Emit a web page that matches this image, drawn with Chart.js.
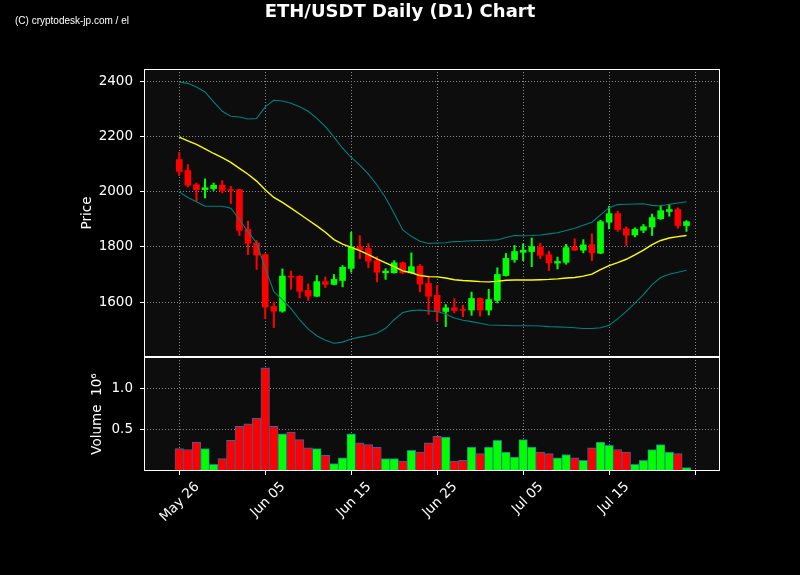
<!DOCTYPE html>
<html>
<head>
<meta charset="utf-8">
<title>ETH/USDT Daily (D1) Chart</title>
<script src="https://cdn.jsdelivr.net/npm/chart.js@4.4.1/dist/chart.umd.min.js"></script>
<style>
  html, body { margin: 0; padding: 0; background: #000; }
  #wrap { width: 800px; height: 575px; }
</style>
</head>
<body>
<div id="wrap"><canvas id="ethChart" width="800" height="575"></canvas></div>
<script>
// x values are day offsets from May 26
const xTickDays = [0, 10, 20, 30, 40, 50, 60];
const xTickLabels = ['May 26', 'Jun 05', 'Jun 15', 'Jun 25', 'Jul 05', 'Jul 15', ''];
const priceTicks = [1600, 1800, 2000, 2200, 2400];
const volumeTicks = [0.5, 1.0];

const openPrices = [2116, 2076, 2025, 2007, 2011, 2023, 2007, 2007, 1863, 1814,
  1772, 1584, 1567, 1694, 1693, 1642, 1621, 1674, 1664, 1678,
  1722, 1800, 1794, 1750, 1706, 1706, 1742, 1706, 1730, 1667,
  1624, 1566, 1579, 1573, 1571, 1613, 1571, 1606, 1696, 1754,
  1780, 1783, 1800, 1771, 1741, 1744, 1799, 1788, 1808, 1777,
  1889, 1920, 1865, 1843, 1860, 1872, 1902, 1928, 1935, 1877];
const highPrices = [2142, 2098, 2031, 2046, 2031, 2040, 2019, 2008, 1893, 1823,
  1775, 1600, 1720, 1712, 1696, 1666, 1696, 1691, 1700, 1732,
  1853, 1841, 1812, 1764, 1721, 1750, 1745, 1778, 1736, 1694,
  1660, 1591, 1612, 1588, 1636, 1615, 1646, 1724, 1776, 1805,
  1811, 1832, 1813, 1784, 1763, 1809, 1829, 1826, 1847, 1896,
  1947, 1929, 1872, 1869, 1881, 1919, 1949, 1953, 1941, 1895];
const lowPrices = [2058, 2017, 1965, 1977, 2004, 1995, 1957, 1841, 1772, 1718,
  1540, 1507, 1563, 1646, 1615, 1606, 1620, 1652, 1662, 1655,
  1708, 1757, 1724, 1673, 1682, 1705, 1703, 1704, 1637, 1555,
  1531, 1511, 1561, 1547, 1552, 1549, 1553, 1597, 1694, 1744,
  1750, 1728, 1757, 1714, 1720, 1737, 1786, 1778, 1750, 1775,
  1865, 1856, 1805, 1836, 1851, 1841, 1899, 1911, 1867, 1856];
const closePrices = [2073, 2023, 2007, 2014, 2023, 2004, 2004, 1860, 1813, 1770,
  1582, 1567, 1694, 1690, 1639, 1621, 1674, 1664, 1682, 1726,
  1800, 1790, 1748, 1708, 1712, 1742, 1706, 1728, 1665, 1621,
  1566, 1579, 1570, 1570, 1613, 1571, 1609, 1700, 1758, 1783,
  1788, 1801, 1769, 1742, 1747, 1797, 1788, 1807, 1778, 1891,
  1920, 1863, 1842, 1863, 1873, 1906, 1931, 1935, 1877, 1891];
// volume in units of 10^6
const volumes = [0.27, 0.26, 0.35, 0.27, 0.08, 0.15, 0.37, 0.54, 0.57, 0.64,
  1.25, 0.54, 0.45, 0.47, 0.38, 0.28, 0.27, 0.19, 0.09, 0.16,
  0.45, 0.34, 0.32, 0.29, 0.15, 0.15, 0.12, 0.25, 0.23, 0.34,
  0.42, 0.41, 0.12, 0.13, 0.29, 0.21, 0.29, 0.37, 0.23, 0.17,
  0.38, 0.29, 0.23, 0.21, 0.16, 0.20, 0.16, 0.13, 0.28, 0.35,
  0.31, 0.26, 0.23, 0.08, 0.13, 0.26, 0.32, 0.23, 0.21, 0.04];
const smaLine = [2197, 2184, 2171, 2155, 2138, 2123, 2106, 2084, 2063, 2038,
  2007, 1979, 1961, 1940, 1919, 1897, 1876, 1853, 1826, 1810,
  1798, 1786, 1772, 1756, 1742, 1728, 1713, 1706, 1696, 1692,
  1691, 1687, 1681, 1678, 1676, 1674, 1673, 1675, 1679, 1680,
  1680, 1680, 1681, 1682, 1684, 1687, 1689, 1694, 1701, 1717,
  1732, 1743, 1755, 1771, 1788, 1808, 1823, 1832, 1837, 1841];
const upperBand = [2397, 2392, 2379, 2361, 2325, 2291, 2273, 2270, 2263, 2265,
  2307, 2331, 2328, 2320, 2307, 2291, 2265, 2235, 2197, 2157,
  2124, 2096, 2063, 2024, 1978, 1921, 1861, 1838, 1820, 1812,
  1814, 1815, 1819, 1820, 1822, 1823, 1824, 1825, 1834, 1841,
  1840, 1841, 1843, 1847, 1851, 1859, 1867, 1878, 1889, 1916,
  1942, 1953, 1954, 1955, 1956, 1950, 1948, 1954, 1959, 1963];
const lowerBand = [1999, 1979, 1963, 1947, 1947, 1947, 1940, 1899, 1854, 1814,
  1723, 1638, 1608, 1576, 1536, 1502, 1478, 1462, 1451, 1455,
  1466, 1473, 1479, 1487, 1505, 1536, 1562, 1569, 1571, 1568,
  1566, 1557, 1542, 1534, 1529, 1523, 1517, 1516, 1515, 1514,
  1514, 1514, 1513, 1511, 1510, 1509, 1507, 1504, 1504, 1507,
  1516, 1539, 1566, 1596, 1627, 1663, 1689, 1701, 1708, 1715];

const days = openPrices.map((_, i) => i);
const candleColors = days.map(i => closePrices[i] >= openPrices[i] ? '#00ff00' : '#ff0000');

const tickFont = { family: 'DejaVu Sans', size: 13.5 };
const gridStyle = {
  color: '#8a8a8a',
  lineWidth: 1,
  offset: false,
  drawTicks: true,
  tickLength: 4,
  tickColor: '#ffffff',
  tickWidth: 1,
  tickBorderDash: []
};

// background, frames and header texts
const framePlugin = {
  id: 'frames',
  beforeDraw(chart) {
    const { ctx, chartArea } = chart;
    ctx.save();
    ctx.fillStyle = '#000';
    ctx.fillRect(0, 0, chart.width, chart.height);
    ctx.fillStyle = '#0d0d0d';
    ctx.fillRect(chartArea.left, chartArea.top, chartArea.width, chartArea.height);

    ctx.fillStyle = '#fff';
    ctx.textAlign = 'center';
    ctx.textBaseline = 'alphabetic';
    ctx.font = 'bold 18px "DejaVu Sans"';
    ctx.fillText('ETH/USDT Daily (D1) Chart', 400, 17);

    ctx.textAlign = 'left';
    ctx.textBaseline = 'middle';
    ctx.font = '10px "Liberation Sans"';
    ctx.fillText('(C) cryptodesk-jp.com / el', 15, 21, 115);
    ctx.restore();
  },
  afterDraw(chart) {
    const { ctx, chartArea } = chart;
    ctx.save();
    ctx.strokeStyle = '#fff';
    ctx.lineWidth = 1;
    ['y', 'yv'].forEach(id => {
      const s = chart.scales[id];
      ctx.strokeRect(Math.round(chartArea.left) + 0.5, Math.round(s.top) + 0.5,
        Math.round(chartArea.width) - 1, Math.round(s.bottom - s.top) - 1);
    });
    ctx.restore();
  }
};

new Chart(document.getElementById('ethChart').getContext('2d'), {
  type: 'bar',
  data: {
    datasets: [
      {
        type: 'line', label: 'SMA', yAxisID: 'y', order: 0,
        data: days.map(i => ({ x: i, y: smaLine[i] })),
        borderColor: '#ffff00', borderWidth: 1.4, pointRadius: 0, tension: 0
      },
      {
        type: 'line', label: 'Upper', yAxisID: 'y', order: 1,
        data: days.map(i => ({ x: i, y: upperBand[i] })),
        borderColor: '#008080', borderWidth: 1.1, pointRadius: 0, tension: 0
      },
      {
        type: 'line', label: 'Lower', yAxisID: 'y', order: 1,
        data: days.map(i => ({ x: i, y: lowerBand[i] })),
        borderColor: '#008080', borderWidth: 1.1, pointRadius: 0, tension: 0
      },
      {
        label: 'Body', yAxisID: 'y', order: 2,
        data: days.map(i => ({ x: i, y: [openPrices[i], closePrices[i]] })),
        backgroundColor: candleColors, barThickness: 6, borderWidth: 0
      },
      {
        label: 'Wick', yAxisID: 'y', order: 3,
        data: days.map(i => ({ x: i, y: [lowPrices[i], highPrices[i]] })),
        backgroundColor: candleColors, barThickness: 1.4, borderWidth: 0
      },
      {
        label: 'Volume', yAxisID: 'yv', order: 2,
        data: days.map(i => ({ x: i, y: volumes[i] })),
        backgroundColor: candleColors, barThickness: 8.6,
        borderColor: '#1f6fae', borderWidth: { top: 1, left: 0.8, right: 0.8, bottom: 0 },
        borderSkipped: 'bottom'
      }
    ]
  },
  options: {
    responsive: false,
    animation: false,
    devicePixelRatio: 1,
    layout: { padding: { left: 0, right: 80, top: 69, bottom: 0 } },
    datasets: { bar: { grouped: false } },
    plugins: {
      legend: { display: false },
      tooltip: { enabled: false },
      title: { display: false }
    },
    scales: {
      x: {
        type: 'linear', min: -4.1, max: 62.9, offset: false, bounds: 'data',
        afterBuildTicks: s => { s.ticks = xTickDays.map(v => ({ value: v })); },
        afterFit: s => { s.height = 104; },
        grid: gridStyle,
        border: { display: false, dash: [1, 2] },
        ticks: {
          color: '#fff', font: tickFont, autoSkip: false,
          minRotation: 45, maxRotation: 45, padding: 4, labelOffset: 18,
          callback: v => xTickLabels[xTickDays.indexOf(v)]
        }
      },
      yv: {
        type: 'linear', position: 'left', stack: 'panes', stackWeight: 114,
        min: 0, max: 1.38, bounds: 'data',
        afterBuildTicks: s => { s.ticks = volumeTicks.map(v => ({ value: v })); },
        afterFit: s => { s.width = 144; },
        grid: gridStyle,
        border: { display: false, dash: [1, 2] },
        ticks: { color: '#fff', font: tickFont, padding: 7, autoSkip: false, callback: v => v.toFixed(1) },
        title: { display: true, text: 'Volume  10⁶', color: '#fff', font: tickFont, padding: { top: 89, bottom: 0 } }
      },
      y: {
        type: 'linear', position: 'left', stack: 'panes', stackWeight: 288,
        min: 1401, max: 2444, bounds: 'data',
        afterBuildTicks: s => { s.ticks = priceTicks.map(v => ({ value: v })); },
        afterFit: s => { s.width = 144; },
        grid: gridStyle,
        border: { display: false, dash: [1, 2] },
        ticks: { color: '#fff', font: tickFont, padding: 7, autoSkip: false, callback: v => String(v) },
        title: { display: true, text: 'Price', color: '#fff', font: tickFont, padding: { top: 79, bottom: 0 } }
      }
    }
  },
  plugins: [framePlugin]
});
</script>
</body>
</html>
